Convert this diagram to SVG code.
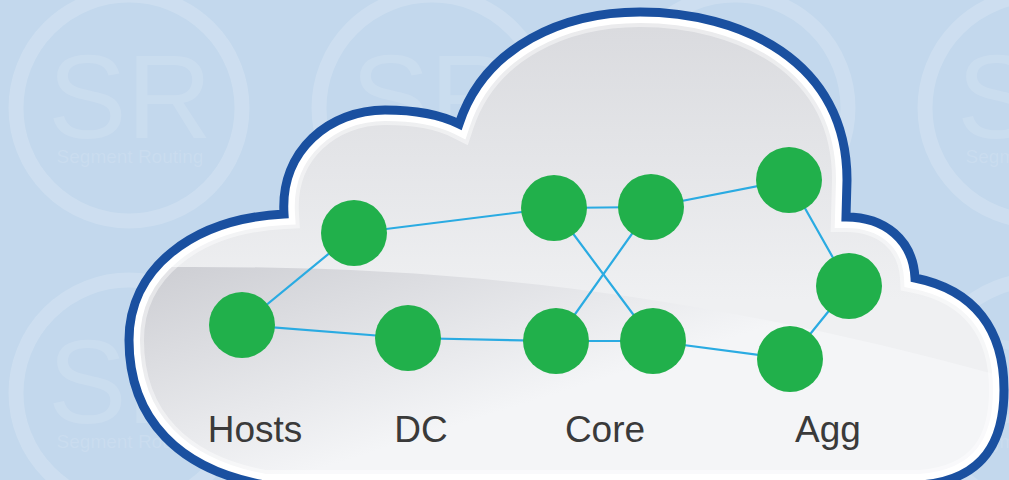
<svg xmlns="http://www.w3.org/2000/svg" xmlns:xlink="http://www.w3.org/1999/xlink" width="1009" height="480" viewBox="0 0 1009 480">
  <defs>
    <style>
      .wm-ring{fill:none;stroke:#ffffff;stroke-opacity:0.17;stroke-width:15}
      .wm-big{font-family:"Liberation Sans",Arial,sans-serif;font-size:118px;fill:#ffffff;fill-opacity:0.13;text-anchor:middle}
      .wm-small{font-family:"Liberation Sans",Arial,sans-serif;font-size:19px;fill:#ffffff;fill-opacity:0.13;text-anchor:middle}
      .node{fill:#21b04b}
      .edge{stroke:#2aabe2;stroke-width:2.2;fill:none;stroke-linecap:round}
      .label{font-family:"Liberation Sans",Arial,Helvetica,sans-serif;font-size:37px;fill:#3a3a3a;text-anchor:middle}
    </style>
    <path id="cloudShape" d="M 265 485 C 180 470 129 420 129 340 C 129 270 190 219 284 214 C 280 150 330 110 385 110 C 420 110 445 117 459 124 C 485 45 565 12 640 12 C 740 12 847 60 847 180 L 846 217 C 885 217 913 240 915 278 C 975 290 1004 330 1004 390 C 1004 440 985 480 920 485 Z"/>
    <clipPath id="cloudClip"><use xlink:href="#cloudShape"/></clipPath>
    <linearGradient id="upperGrad" gradientUnits="userSpaceOnUse" x1="0" y1="15" x2="0" y2="300">
      <stop offset="0" stop-color="#d9dade"/>
      <stop offset="1" stop-color="#eff0f2"/>
    </linearGradient>
    <linearGradient id="lowerGrad" gradientUnits="userSpaceOnUse" x1="200" y1="265" x2="270" y2="485">
      <stop offset="0" stop-color="#cfd0d5"/>
      <stop offset="1" stop-color="#f4f5f7"/>
    </linearGradient>
  </defs>

  <rect id="background" x="0" y="0" width="1009" height="480" fill="#c3d8ed"/>

  <g id="watermarks">
    <g id="wm-0-0"><circle class="wm-ring" cx="129" cy="108" r="113"/><text class="wm-big" x="130" y="138">SR</text><text class="wm-small" x="130" y="163">Segment Routing</text></g>
    <g id="wm-0-1"><circle class="wm-ring" cx="432" cy="108" r="113"/><text class="wm-big" x="433" y="138">SR</text><text class="wm-small" x="433" y="163">Segment Routing</text></g>
    <g id="wm-0-2"><circle class="wm-ring" cx="735" cy="108" r="113"/><text class="wm-big" x="736" y="138">SR</text><text class="wm-small" x="736" y="163">Segment Routing</text></g>
    <g id="wm-0-3"><circle class="wm-ring" cx="1038" cy="108" r="113"/><text class="wm-big" x="1039" y="138">SR</text><text class="wm-small" x="1039" y="163">Segment Routing</text></g>
    <g id="wm-1-0"><circle class="wm-ring" cx="129" cy="393" r="113"/><text class="wm-big" x="130" y="423">SR</text><text class="wm-small" x="130" y="448">Segment Routing</text></g>
    <g id="wm-1-3"><circle class="wm-ring" cx="1038" cy="393" r="113"/><text class="wm-big" x="1039" y="423">SR</text><text class="wm-small" x="1039" y="448">Segment Routing</text></g>
  </g>

  <g id="cloud">
    <use xlink:href="#cloudShape" fill="url(#upperGrad)"/>
    <g clip-path="url(#cloudClip)">
      <path d="M 100 267 L 160 267 C 450 265 690 290 1012 379 L 1012 495 L 100 495 Z" fill="url(#lowerGrad)"/>
      <use xlink:href="#cloudShape" fill="none" stroke="#ffffff" stroke-opacity="0.45" stroke-width="30"/>
      <use xlink:href="#cloudShape" fill="none" stroke="#ffffff" stroke-width="22"/>
    </g>
    <use xlink:href="#cloudShape" fill="none" stroke="#1a50a0" stroke-width="9" stroke-linejoin="miter"/>
  </g>

  <g id="connectors">
    <line class="edge" x1="242" y1="325" x2="354" y2="233"/>
    <line class="edge" x1="242" y1="325" x2="408" y2="338"/>
    <line class="edge" x1="354" y1="233" x2="554" y2="208"/>
    <line class="edge" x1="408" y1="338" x2="556" y2="341"/>
    <line class="edge" x1="554" y1="208" x2="651" y2="207"/>
    <line class="edge" x1="556" y1="341" x2="653" y2="341"/>
    <line class="edge" x1="554" y1="208" x2="653" y2="341"/>
    <line class="edge" x1="651" y1="207" x2="556" y2="341"/>
    <line class="edge" x1="651" y1="207" x2="789" y2="180"/>
    <line class="edge" x1="653" y1="341" x2="790" y2="359"/>
    <line class="edge" x1="789" y1="180" x2="849" y2="286"/>
    <line class="edge" x1="849" y1="286" x2="790" y2="359"/>
  </g>

  <g id="node-hosts"><circle class="node" cx="242" cy="325" r="33"/></g>
  <g id="node-dc-upper"><circle class="node" cx="354" cy="233" r="33"/></g>
  <g id="node-dc-lower"><circle class="node" cx="408" cy="338" r="33"/></g>
  <g id="node-core-tl"><circle class="node" cx="554" cy="208" r="33"/></g>
  <g id="node-core-tr"><circle class="node" cx="651" cy="207" r="33"/></g>
  <g id="node-core-bl"><circle class="node" cx="556" cy="341" r="33"/></g>
  <g id="node-core-br"><circle class="node" cx="653" cy="341" r="33"/></g>
  <g id="node-agg-top"><circle class="node" cx="789" cy="180" r="33"/></g>
  <g id="node-agg-mid"><circle class="node" cx="849" cy="286" r="33"/></g>
  <g id="node-agg-bot"><circle class="node" cx="790" cy="359" r="33"/></g>

  <g id="labels">
    <text class="label" x="255" y="442">Hosts</text>
    <text class="label" x="421" y="442">DC</text>
    <text class="label" x="605" y="442">Core</text>
    <text class="label" x="828" y="442">Agg</text>
  </g>
</svg>
